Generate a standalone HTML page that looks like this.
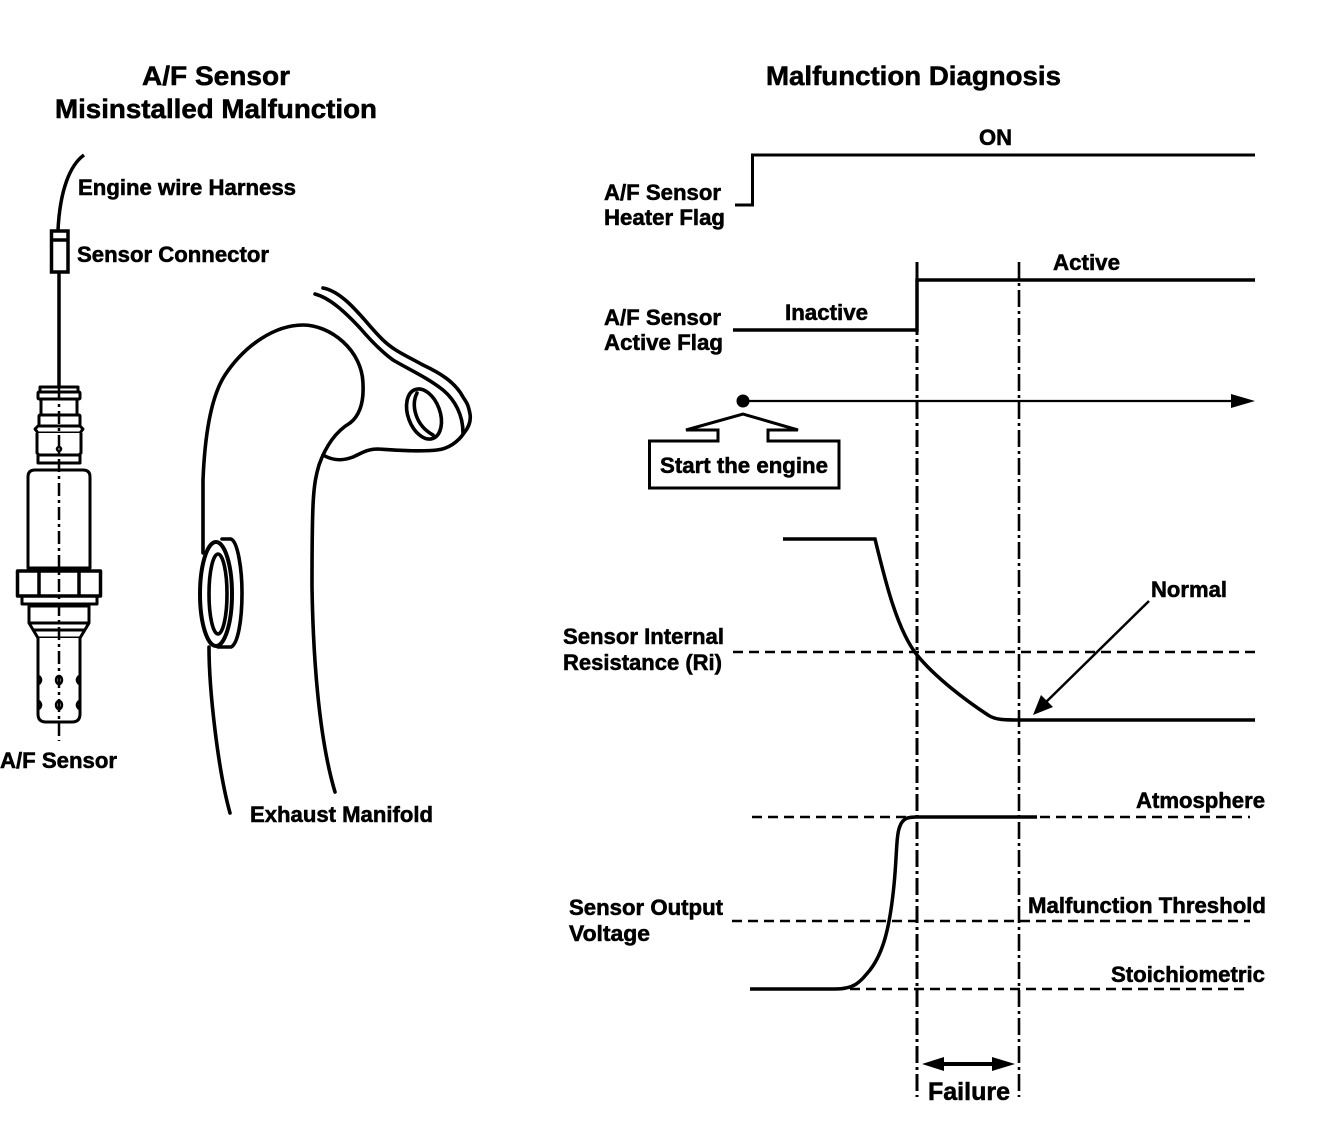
<!DOCTYPE html>
<html lang="en">
<head>
<meta charset="utf-8">
<title>A/F Sensor Misinstalled Malfunction</title>
<style>
html,body{margin:0;padding:0;background:#fff}
svg{display:block}
text{font-family:"Liberation Sans",Arial,sans-serif;font-weight:bold;fill:#000;stroke:#000;stroke-width:.55px}
.t{font-size:27px}
.l{font-size:22px}
.s{fill:none;stroke:#000;stroke-width:3}
.d{fill:none;stroke:#000;stroke-width:2.6;stroke-dasharray:10 6}
.c{fill:none;stroke:#000;stroke-width:2.6;stroke-dasharray:17 4 3 4}
.m{fill:none;stroke:#000;stroke-width:3.6;stroke-linecap:round;stroke-linejoin:round}
</style>
</head>
<body>
<svg width="1328" height="1122" viewBox="0 0 1328 1122" xmlns="http://www.w3.org/2000/svg">
<rect width="1328" height="1122" fill="#fff"/>

<!-- Titles -->
<text class="t" x="142" y="85" textLength="148" lengthAdjust="spacingAndGlyphs">A/F Sensor</text>
<text class="t" x="55" y="118" textLength="322" lengthAdjust="spacingAndGlyphs">Misinstalled Malfunction</text>
<text class="t" x="766" y="85" textLength="295" lengthAdjust="spacingAndGlyphs">Malfunction Diagnosis</text>

<!-- Left labels -->
<text class="l" x="78" y="195" textLength="218" lengthAdjust="spacingAndGlyphs">Engine wire Harness</text>
<text class="l" x="77" y="262" textLength="192" lengthAdjust="spacingAndGlyphs">Sensor Connector</text>
<text class="l" x="0" y="768" textLength="117" lengthAdjust="spacingAndGlyphs">A/F Sensor</text>
<text class="l" x="250" y="822" textLength="183" lengthAdjust="spacingAndGlyphs">Exhaust Manifold</text>

<!-- Sensor wire and connector -->
<path d="M84 155 C70 165 60 190 58 230" fill="none" stroke="#000" stroke-width="3.500"/>
<rect x="51.500" y="231" width="16.500" height="41" fill="#fff" stroke="#000" stroke-width="3.500"/>
<line x1="51" y1="240" x2="68" y2="240" stroke="#000" stroke-width="3.500"/>
<line x1="59" y1="272" x2="59" y2="387" stroke="#000" stroke-width="3.500"/>

<!-- Sensor body -->
<g fill="#fff" stroke="#000" stroke-width="3" stroke-linejoin="round">
<rect x="40" y="387" width="38" height="6"/>
<rect x="38" y="392" width="42" height="7" rx="1"/>
<rect x="41" y="399" width="36" height="16"/>
<rect x="39" y="415" width="41" height="11" rx="1"/>
<path d="M38 426 H80 L83 429 L80 433 H38 L35 429 Z"/>
<path d="M37 433 V453 L39 455 H79 L81 453 V433"/>
<rect x="38" y="455" width="42" height="8"/>
<path d="M28 568 V477 Q28 470 35 470 H83 Q90 470 90 477 V568 Z"/>
<rect x="22" y="596" width="75" height="8"/>
<rect x="17.500" y="571" width="83" height="25" stroke-width="3.500"/>
<line x1="39" y1="571" x2="39" y2="596" stroke-width="3.500"/>
<line x1="79" y1="571" x2="79" y2="596" stroke-width="3.500"/>
<path d="M29 606 H89 V623 L80 638 H38 L29 623 Z"/>
<line x1="30" y1="623" x2="88" y2="623"/>
<line x1="33" y1="630" x2="85" y2="630"/>
<path d="M38 638 V714 Q38 722 46 722 H72 Q80 722 80 714 V638"/>
</g>
<g fill="none" stroke="#000" stroke-width="2.500">
<ellipse cx="59" cy="680" rx="3" ry="4"/>
<ellipse cx="59" cy="705" rx="3" ry="4"/>
<path d="M39 676 Q43 680 39 684"/>
<path d="M39 701 Q43 705 39 709"/>
<path d="M79 676 Q75 680 79 684"/>
<path d="M79 701 Q75 705 79 709"/>
<ellipse cx="59" cy="449" rx="2" ry="2"/>
</g>
<line x1="59" y1="387" x2="59" y2="741" stroke="#000" stroke-width="2.500" stroke-dasharray="13 4 3 4"/>

<!-- Manifold -->
<path class="m" d="M203 553 L203 480 C205 430 212 395 225 375 C245 345 275 325 303 325 C330 325 363 350 363 385 C364 405 358 417 350 423 C335 432 325 448 319 465 C313 485 312 500 312 587 C313 650 318 735 335 792"/>
<path class="m" d="M323 455 C335 462 345 460 353 457 C362 453 367 449 378 449 C395 450 420 452 437 450 C448 449 458 442 464 433 C469 427 471 420 470 414 C468 403 466 402 463 397 C455 382 440 373 423 365 C405 355 392 350 380 337 C365 322 345 292 323 288"/>
<path class="m" d="M315 294 C330 298 345 312 360 328 C372 342 382 352 393 360 C410 370 428 378 443 390 C455 400 463 415 463 433"/>
<path class="m" d="M209 647 C209 690 218 770 230 813"/>
<ellipse cx="424" cy="414" rx="16" ry="26" transform="rotate(-20 424 414)" class="m"/>
<path class="m" d="M417 393 C411 405 415 425 433 435"/>
<path class="m" d="M222 539 H231 C238 542 242 570 242 593 C242 620 238 644 231 647 H218"/>
<ellipse cx="216" cy="594" rx="16" ry="52" class="m" style="stroke-width:4"/>
<ellipse cx="218" cy="594" rx="9" ry="40" class="m"/>

<!-- Right labels -->
<text class="l" x="979" y="145" textLength="33" lengthAdjust="spacingAndGlyphs">ON</text>
<text class="l" x="604" y="200" textLength="117" lengthAdjust="spacingAndGlyphs">A/F Sensor</text>
<text class="l" x="604" y="225" textLength="121" lengthAdjust="spacingAndGlyphs">Heater Flag</text>
<text class="l" x="1053" y="270" textLength="67" lengthAdjust="spacingAndGlyphs">Active</text>
<text class="l" x="785" y="320" textLength="83" lengthAdjust="spacingAndGlyphs">Inactive</text>
<text class="l" x="604" y="325" textLength="117" lengthAdjust="spacingAndGlyphs">A/F Sensor</text>
<text class="l" x="604" y="350" textLength="119" lengthAdjust="spacingAndGlyphs">Active Flag</text>
<text class="l" x="1151" y="597" textLength="76" lengthAdjust="spacingAndGlyphs">Normal</text>
<text class="l" x="563" y="644" textLength="161" lengthAdjust="spacingAndGlyphs">Sensor Internal</text>
<text class="l" x="563" y="670" textLength="159" lengthAdjust="spacingAndGlyphs">Resistance (Ri)</text>
<text class="l" x="1136" y="808" textLength="129" lengthAdjust="spacingAndGlyphs">Atmosphere</text>
<text class="l" x="569" y="915" textLength="154" lengthAdjust="spacingAndGlyphs">Sensor Output</text>
<text class="l" x="569" y="941" textLength="81" lengthAdjust="spacingAndGlyphs">Voltage</text>
<text class="l" x="1028" y="913" textLength="238" lengthAdjust="spacingAndGlyphs">Malfunction Threshold</text>
<text class="l" x="1111" y="982" textLength="154" lengthAdjust="spacingAndGlyphs">Stoichiometric</text>
<text x="928" y="1100" style="font-size:25px" textLength="82" lengthAdjust="spacingAndGlyphs">Failure</text>

<!-- Flags -->
<path class="s" d="M735 205 H752.500 V155 H1255"/>
<path d="M733 330 H917 V280 H1255" fill="none" stroke="#000" stroke-width="3.500"/>

<!-- Time arrow -->
<circle cx="743" cy="401" r="6.500" fill="#000"/>
<line x1="743" y1="401" x2="1235" y2="401" stroke="#000" stroke-width="2.200"/>
<polygon points="1231,394 1255,401 1231,408" fill="#000"/>

<!-- Start box -->
<polygon points="649.500,441 718,441 718,430 686,430 743,414 798,430 768,430 768,441 839,441 839,488 649.500,488" fill="#fff" stroke="#000" stroke-width="3" stroke-linejoin="miter"/>
<text class="l" x="660" y="473" textLength="168" lengthAdjust="spacingAndGlyphs">Start the engine</text>

<!-- Dashed reference lines -->
<line class="d" x1="733" y1="652" x2="1256" y2="652"/>
<line class="d" x1="752" y1="817" x2="1250" y2="817"/>
<line class="d" x1="732" y1="921" x2="1250" y2="921"/>
<line class="d" x1="850" y1="989" x2="1250" y2="989"/>

<!-- Dash-dot verticals -->
<line class="c" x1="917" y1="262" x2="917" y2="1097" style="stroke-width:3"/>
<line class="c" x1="1019" y1="262" x2="1019" y2="1097"/>

<!-- Resistance curve -->
<path d="M783 539 H875 C885 580 897 630 917 655 C935 677 965 700 988 715 C995 720 1005 720 1020 720 H1255" fill="none" stroke="#000" stroke-width="3.500"/>
<line x1="1149" y1="601" x2="1042" y2="706" stroke="#000" stroke-width="2.500"/>
<polygon points="1033,715 1041,695 1053,707" fill="#000"/>

<!-- Voltage curve -->
<path d="M750 989 H835 C855 989 860 982 870 970 C884 952 890 925 894 885 C897 855 896 835 900 826 C903 818 908 817 917 817 H1037" fill="none" stroke="#000" stroke-width="3.500"/>

<!-- Failure arrow -->
<line x1="935" y1="1064" x2="1005" y2="1064" stroke="#000" stroke-width="4"/>
<polygon points="922,1064 944,1057 944,1071" fill="#000"/>
<polygon points="1015,1064 992,1057 992,1071" fill="#000"/>
</svg>
</body>
</html>
